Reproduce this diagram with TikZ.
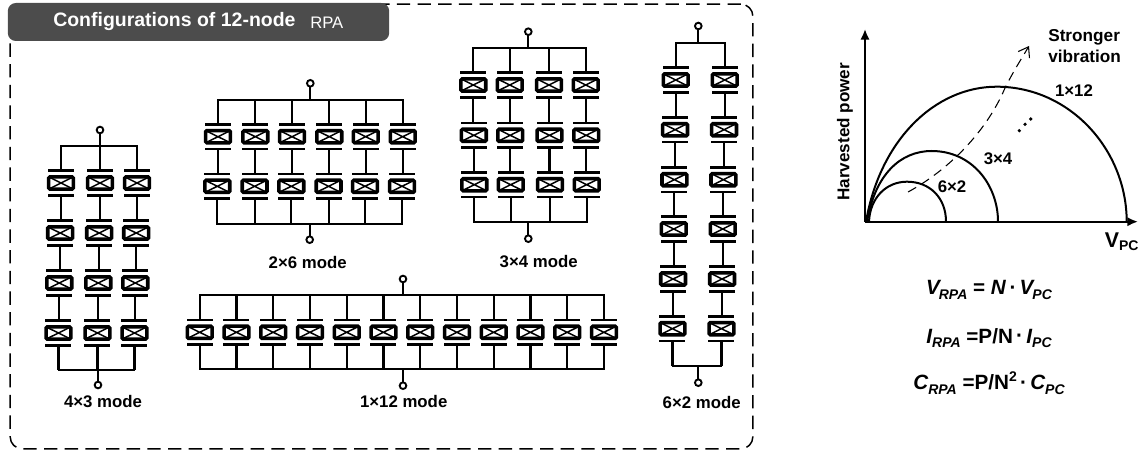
\documentclass[tikz,border=0pt]{standalone}
\usepackage{fontspec}
\setmainfont{Liberation Sans}
\usetikzlibrary{arrows.meta,calc}
\tikzset{
  wire/.style={line width=1.6pt,black},
  cell/.style={draw=black,line width=2.7pt,fill=white,rounded corners=1pt,minimum width=18.6pt,minimum height=9.2pt,inner sep=0pt,outer sep=0pt,
    path picture={\draw[line width=1.1pt] (path picture bounding box.north west)--(path picture bounding box.south east)
      (path picture bounding box.south west)--(path picture bounding box.north east);}},
  plate/.style={fill=black,draw=none,minimum width=19.5pt,minimum height=2.2pt,inner sep=0pt,outer sep=0pt},
  term/.style={circle,draw=black,fill=white,line width=1.4pt,minimum size=5pt,inner sep=0pt,outer sep=0pt},
  lbl/.style={font=\fontsize{12.6}{15}\selectfont\bfseries,inner sep=0pt},
  axis/.style={line width=1.5pt,-{Latex[length=8pt,width=7pt]}},
  curve/.style={line width=1.5pt},
}
\newcommand\eqsub[1]{\raisebox{-0.2em}{\fontsize{10.5}{12}\selectfont #1}}
\newcommand\eqdot{\kern0.16em\raisebox{0.02em}{·}\kern0.16em}
% name, column xs, row ys, skew per row, ncols, nrows, top bus y,
% top terminal (x,y), bottom terminal (x,y)
\newcommand\rpagroup[9]{%
  \foreach \yy [count=\r] in {#3}{%
    \foreach \xx [count=\c] in {#2}{%
      \pgfmathsetmacro\xv{\xx+(#4)*(\r-1)}%
      \node[cell] (#1-\r-\c) at (\xv,\yy) {};
      \node[plate] (#1-\r-\c-t) at (\xv,\yy-12.3) {};
      \node[plate] (#1-\r-\c-b) at (\xv,\yy+12.3) {};
    }%
  }%
  \node[term] (#1-top) at #8 {};
  \node[term] (#1-bot) at #9 {};
  \coordinate (#1-tb) at (0,#7);
  \rpawire{#1}{#5}{#6}%
}
\newcommand\rpawire[3]{%
  \pgfmathtruncatemacro\lastrow{#3}%
  \pgfmathtruncatemacro\lastcol{#2}%
  \ifnum\lastrow>1
    \pgfmathtruncatemacro\prevrow{#3-1}%
    \foreach \r in {1,...,\prevrow}{%
      \pgfmathtruncatemacro\nx{\r+1}%
      \foreach \c in {1,...,\lastcol}{%
        \draw[wire] (#1-\r-\c-b.center) -- (#1-\r-\c-b.center |- #1-\nx-\c-t.center);
      }%
    }%
  \fi
  \foreach \c in {1,...,\lastcol}{%
    \draw[wire] (#1-1-\c-t.center) -- (#1-1-\c-t.center |- #1-tb);
    \draw[wire] (#1-\lastrow-\c-b.center) -- (#1-\lastrow-\c-b.center |- #1-bb);
  }%
  \draw[wire,line width=1.3pt,line cap=rect] (#1-1-1-t.center |- #1-tb) -- (#1-1-\lastcol-t.center |- #1-tb);
  \draw[wire,line width=1.3pt,line cap=rect] (#1-\lastrow-1-b.center |- #1-bb) -- (#1-\lastrow-\lastcol-b.center |- #1-bb);
  \draw[wire] (#1-top) -- (#1-top |- #1-tb);
  \draw[wire] (#1-bot) -- (#1-bot |- #1-bb);
}
\begin{document}
\begin{tikzpicture}[x=0.75pt,y=-0.75pt]
\useasboundingbox (0,0) rectangle (1138,452);
% frame
\node[draw=black,line width=1.1pt,rounded corners=9pt,dash pattern=on 10pt off 5.5pt,minimum width=557pt,minimum height=333.5pt,inner sep=0pt] (frame) at (381.5,226.5) {};
\node[fill=black!70,rounded corners=6pt,minimum width=286pt,minimum height=28.5pt,inner sep=0pt] (banner) at (198.5,22) {};
\node[text=white,anchor=west,inner sep=0pt,font=\fontsize{14.6}{17}\selectfont\bfseries] (title) at (53,22) {Configurations of 12-node};
\node[text=white,anchor=west,inner sep=0pt,font=\fontsize{12.5}{14}\selectfont] (title2) at (310,23) {RPA};
% arrays
\coordinate (A-bb) at (0,370);
\rpagroup{A}{61,100,137}{183,233,283,333}{-0.85}{3}{4}{146}{(100,130)}{(98,385)}
\coordinate (B-bb) at (0,223.7);
\rpagroup{B}{218,255.3,292,329.3,365.7,402.7}{136.7,186.3}{-0.7}{6}{2}{99.7}{(310.3,83.3)}{(309.7,239.7)}
\coordinate (C-bb) at (0,222);
\rpagroup{C}{473.3,509.7,549,585.7}{85,135.3,184.7}{0.5}{4}{3}{48}{(528.3,31.7)}{(528.3,238.7)}
\coordinate (D-bb) at (0,369.3);
\rpagroup{D}{199.7,236.45,273.2,309.95,346.7,383.45,420.2,456.95,493.7,530.45,567.2,603.95}{332.3}{0}{12}{1}{295}{(403,279)}{(403,385.7)}
\coordinate (E-bb) at (0,365.7);
\rpagroup{E}{675.7,724.7}{80,129.7,179.7,229,279,328.7}{-0.65}{2}{6}{42.7}{(698.3,26)}{(698.3,382.7)}
% labels
\node[lbl] (la) at (103,402) {4×3 mode};
\node[lbl] (lb) at (307.7,262.7) {2×6 mode};
\node[lbl] (lc) at (538.7,261.7) {3×4 mode};
\node[lbl] (ld) at (403.7,401.7) {1×12 mode};
\node[lbl] (le) at (701.7,402.7) {6×2 mode};
% chart
\coordinate (o) at (865,221.7);
\coordinate (ytip) at (865,29);
\coordinate (xtip) at (1138,221.7);
\draw[axis] (o) -- (ytip);
\draw[axis] (o) -- (xtip);
\draw[curve] (869,221.7) .. controls (870,198) and (886,181.7) .. (907,181.7) .. controls (930,181.7) and (946,198) .. (946,221.7);
\draw[curve] (867,221.7) .. controls (875,175) and (900,151) .. (931.7,151) .. controls (972,151) and (998,185) .. (998,221.7);
\draw[curve] (866,221.7) .. controls (880,140) and (935,86.7) .. (996.7,86.7) .. controls (1070,86.7) and (1126.7,150) .. (1126.7,221.7);
\coordinate (ds) at (908,192);
\coordinate (de) at (1029,46);
\draw[line width=0.8pt,dash pattern=on 7pt off 4.5pt,-{Straight Barb[length=7pt,width=9pt,angle'=70]}] (ds) .. controls (945,172) and (985,135) .. (1005,88) .. controls (1014,70) and (1022,58) .. (de);
\fill (1019.3,130.7) circle[radius=1.8] (1025,124.3) circle[radius=1.8] (1030.7,119) circle[radius=1.8];
\node[lbl,align=left,anchor=west,font=\fontsize{12.9}{15.7}\selectfont\bfseries] (sv) at (1048,46.5) {Stronger\\vibration};
\node[lbl] (l1) at (1074,91) {1×12};
\node[lbl] (l2) at (998,159) {3×4};
\node[lbl] (l3) at (952,187) {6×2};
\node[lbl,rotate=90,font=\fontsize{12.8}{15}\selectfont\bfseries] (yl) at (845,131.7) {Harvested power};
\node[inner sep=0pt,font=\fontsize{16}{16}\selectfont\bfseries] (vpc) at (1121.7,241.7) {V\raisebox{-0.15em}{\fontsize{10.5}{12}\selectfont PC}};
% equations
\node[inner sep=0pt,font=\fontsize{15.5}{18}\selectfont\bfseries] (e1) at (989,290) {\textit{V\kern-0.05em\eqsub{RPA}} = \textit{N}\eqdot\textit{V\kern-0.05em\eqsub{PC}}};
\node[inner sep=0pt,font=\fontsize{15.5}{18}\selectfont\bfseries] (e2) at (989,338) {\textit{I\eqsub{RPA}} =P/N\eqdot\textit{I\eqsub{PC}}};
\node[inner sep=0pt,font=\fontsize{15.5}{18}\selectfont\bfseries] (e3) at (989,383) {\textit{C\eqsub{RPA}} =P/N\raisebox{0.4em}{\fontsize{10.5}{12}\selectfont 2}\eqdot\textit{C\eqsub{PC}}};
\end{tikzpicture}
\end{document}
